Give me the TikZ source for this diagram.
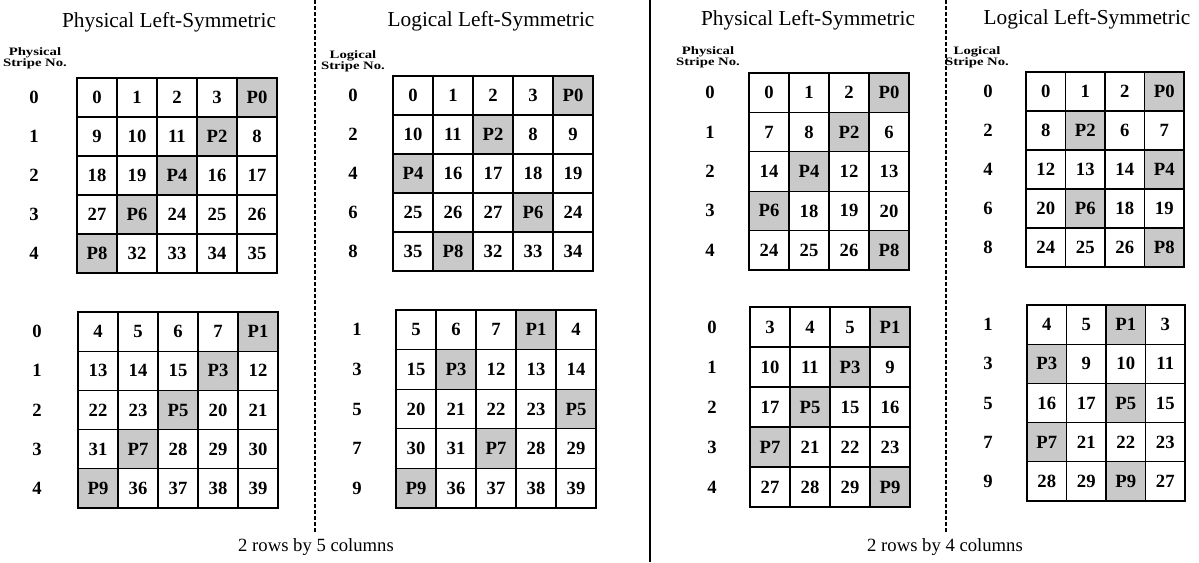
\documentclass[tikz,border=0pt]{standalone}
\usepackage{fontspec}
\setmainfont{Liberation Serif}
\def\firstchar#1#2\relax{#1}
\tikzset{
 dcell/.style={draw, line width=0.9pt, inner sep=0pt, outer sep=0pt, font=\fontsize{14}{14}\selectfont\bfseries},
 pcell/.style={dcell, fill=gray!42},
 rowlab/.style={font=\fontsize{14}{14}\selectfont\bfseries, inner sep=0pt},
 outer/.style={line width=1.6pt},
 title/.style={font=\fontsize{16}{16}\selectfont, inner sep=0pt},
 foot/.style={font=\fontsize{14}{14}\selectfont, inner sep=0pt},
 smalllab/.style={font=\fontsize{8.5}{8}\selectfont\bfseries, align=center, inner sep=0pt},
 divider/.style={line width=1.1pt},
 dashdiv/.style={line width=1.1pt, dash pattern=on 3pt off 1.5pt},
}
% #1 name, #2 x0, #3 y0, #4 cell w, #5 cell h, #6 ncols, #7 label x, #8 labels, #9 rows
\newcommand\drawgrid[9]{%
  \foreach \lab [count=\r from 0] in {#8}{
    \node[rowlab] (#1-l\r) at (#7, {#3+(\r+0.5)*#5}) {\lab};
  }
  \foreach \row [count=\r from 0] in {#9}{
    \foreach \cc [count=\k from 0] in \row {
      \edef\first{\expandafter\firstchar\cc\relax}
      \if P\first \def\cstyle{pcell}\else\def\cstyle{dcell}\fi
      \node[\cstyle, minimum width={#4*0.75pt}, minimum height={#5*0.75pt}] (#1-\r-\k) at ({#2+(\k+0.5)*#4},{#3+(\r+0.5)*#5}) {\cc};
    }
  }
  \pgfmathtruncatemacro\lastc{#6-1}
  \draw[outer] (#1-0-0.north west) rectangle (#1-4-\lastc.south east);
}
\begin{document}
\begin{tikzpicture}[x=0.75pt, y=-0.75pt]
\useasboundingbox (0,0) rectangle (1199,562);
% dividers
\coordinate (d1t) at (315,0); \coordinate (d1b) at (315,533);
\coordinate (d2t) at (946,0); \coordinate (d2b) at (946,533);
\coordinate (st) at (650,0); \coordinate (sb) at (650,562);
\draw[dashdiv] (d1t) -- (d1b);
\draw[dashdiv] (d2t) -- (d2b);
\draw[divider] (st) -- (sb);
% titles
\node[title] (t1) at (169,22) {Physical Left-Symmetric};
\node[title] (t2) at (491,21) {Logical Left-Symmetric};
\node[title] (t3) at (808,20) {Physical Left-Symmetric};
\node[title] (t4) at (1087,19) {Logical Left-Symmetric};
% small labels
\node[smalllab] (s1) at (35,58) {\scalebox{1.3}[1]{Physical}\\\scalebox{1.3}[1]{Stripe No.}};
\node[smalllab] (s2) at (353,61) {\scalebox{1.3}[1]{Logical}\\\scalebox{1.3}[1]{Stripe No.}};
\node[smalllab] (s3) at (708,57) {\scalebox{1.3}[1]{Physical}\\\scalebox{1.3}[1]{Stripe No.}};
\node[smalllab] (s4) at (977,57) {\scalebox{1.3}[1]{Logical}\\\scalebox{1.3}[1]{Stripe No.}};
% grids
\drawgrid{a}{77}{78}{40}{39}{5}{34}{0,1,2,3,4}{{0,1,2,3,P0},{9,10,11,P2,8},{18,19,P4,16,17},{27,P6,24,25,26},{P8,32,33,34,35}}
\drawgrid{b}{78}{312}{40}{39.2}{5}{37}{0,1,2,3,4}{{4,5,6,7,P1},{13,14,15,P3,12},{22,23,P5,20,21},{31,P7,28,29,30},{P9,36,37,38,39}}
\drawgrid{c}{393}{76}{40}{39}{5}{353}{0,2,4,6,8}{{0,1,2,3,P0},{10,11,P2,8,9},{P4,16,17,18,19},{25,26,27,P6,24},{35,P8,32,33,34}}
\drawgrid{d}{396}{310}{40}{39.6}{5}{357}{1,3,5,7,9}{{5,6,7,P1,4},{15,P3,12,13,14},{20,21,22,23,P5},{30,31,P7,28,29},{P9,36,37,38,39}}
\drawgrid{e}{749}{73}{40}{39.4}{4}{710}{0,1,2,3,4}{{0,1,2,P0},{7,8,P2,6},{14,P4,12,13},{P6,18,19,20},{24,25,26,P8}}
\drawgrid{f}{750}{307}{40}{40}{4}{712}{0,1,2,3,4}{{3,4,5,P1},{10,11,P3,9},{17,P5,15,16},{P7,21,22,23},{27,28,29,P9}}
\drawgrid{g}{1026}{72}{39.5}{39}{4}{988}{0,2,4,6,8}{{0,1,2,P0},{8,P2,6,7},{12,13,14,P4},{20,P6,18,19},{24,25,26,P8}}
\drawgrid{h}{1027}{305}{39.5}{39.2}{4}{988}{1,3,5,7,9}{{4,5,P1,3},{P3,9,10,11},{16,17,P5,15},{P7,21,22,23},{28,29,P9,27}}
% footers
\node[foot] (f1) at (316,547) {2 rows by 5 columns};
\node[foot] (f2) at (945,547) {2 rows by 4 columns};
\end{tikzpicture}
\end{document}
